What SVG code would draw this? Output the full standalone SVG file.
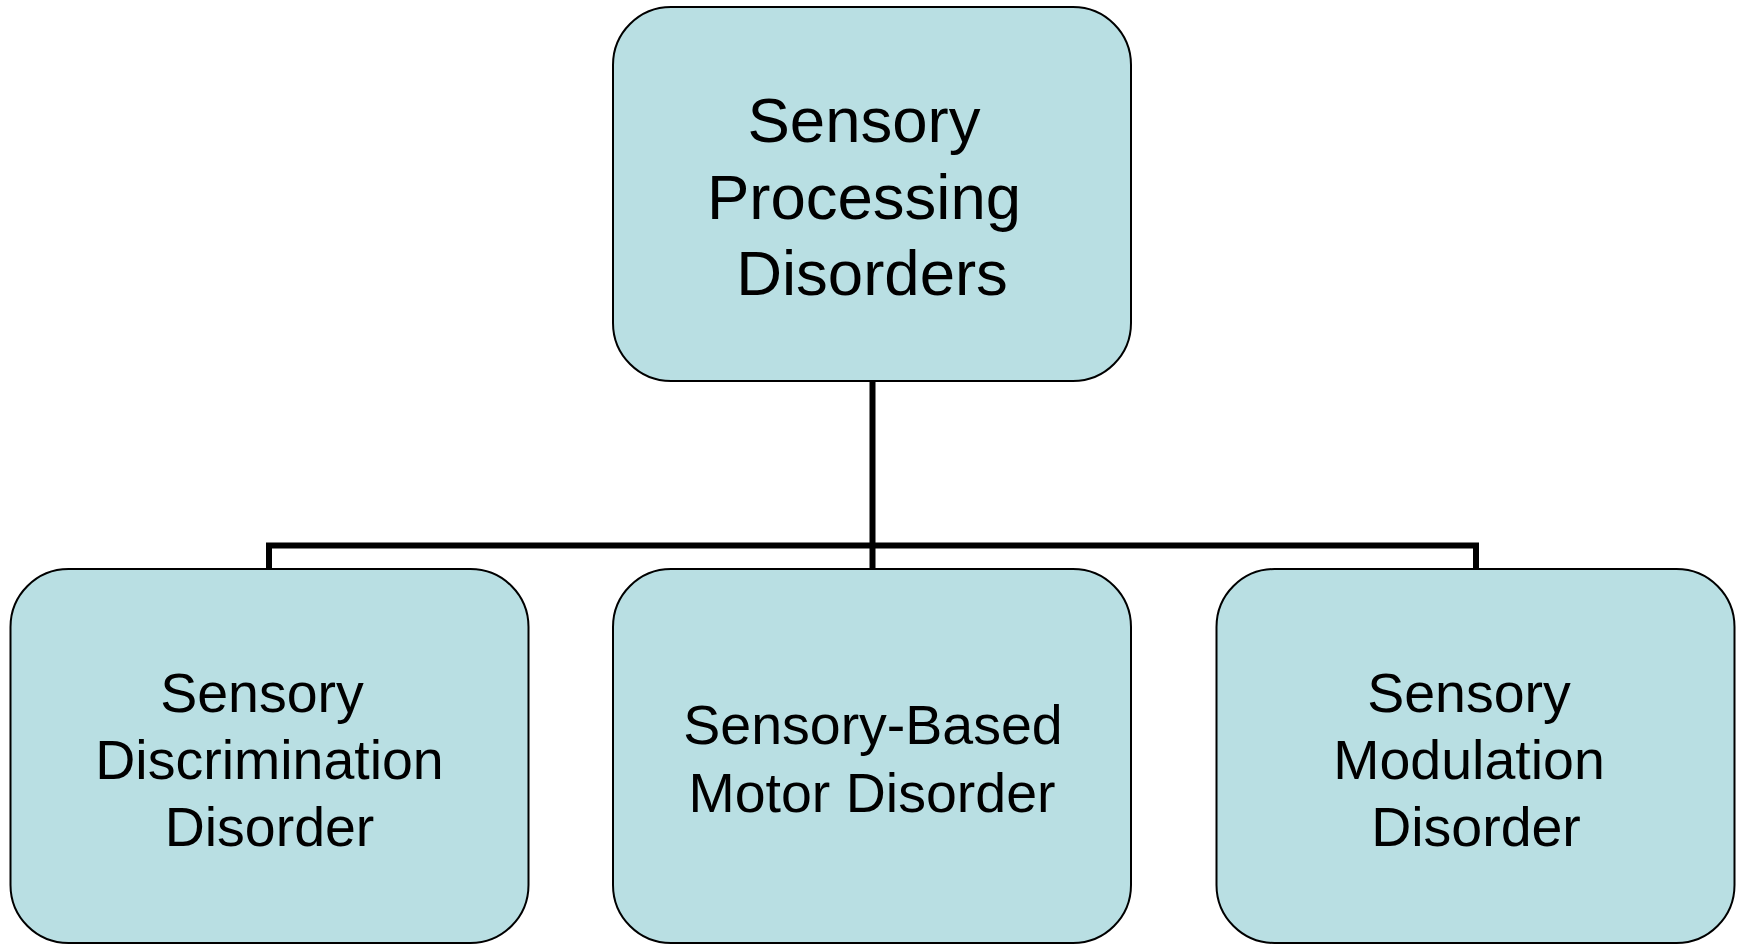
<svg xmlns="http://www.w3.org/2000/svg" width="1746" height="945" viewBox="0 0 1746 945">
<style>
.box{fill:#b9dfe3;stroke:#000;stroke-width:2}
.t{font-family:"Liberation Sans",Arial,sans-serif;fill:#000;text-anchor:middle}
.big{font-size:63.5px}
.sm{font-size:55.5px}
.conn{fill:none;stroke:#000;stroke-width:6}
</style>
<rect width="1746" height="945" fill="#fff"/>
<g id="connectors">
<line class="conn" x1="872.5" y1="381" x2="872.5" y2="569"/>
<polyline class="conn" points="269,569 269,545.5 1476,545.5 1476,569"/>
</g>
<g id="spd">
<rect class="box" x="613" y="7" width="518" height="374" rx="58" ry="58"/>
<text class="t big" x="864" y="142">Sensory</text>
<text class="t big" x="864" y="219">Processing</text>
<text class="t big" x="872" y="295">Disorders</text>
</g>
<g id="sdd">
<rect class="box" x="10.5" y="569" width="518" height="374" rx="58" ry="58"/>
<text class="t sm" x="262" y="712">Sensory</text>
<text class="t sm" x="269.5" y="779">Discrimination</text>
<text class="t sm" x="269.5" y="846">Disorder</text>
</g>
<g id="sbmd">
<rect class="box" x="613" y="569" width="518" height="374" rx="58" ry="58"/>
<text class="t sm" x="873" y="744">Sensory-Based</text>
<text class="t sm" x="872" y="812">Motor Disorder</text>
</g>
<g id="smd">
<rect class="box" x="1216.5" y="569" width="518" height="374" rx="58" ry="58"/>
<text class="t sm" x="1469" y="712">Sensory</text>
<text class="t sm" x="1469" y="779">Modulation</text>
<text class="t sm" x="1476" y="846">Disorder</text>
</g>
</svg>
